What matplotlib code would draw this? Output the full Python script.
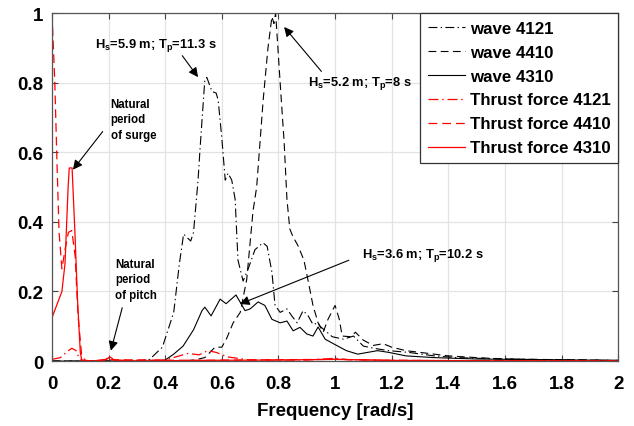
import matplotlib
matplotlib.use("Agg")
import matplotlib.pyplot as plt

plt.rcParams['font.family'] = ['Liberation Sans', 'DejaVu Sans']
plt.rcParams['font.weight'] = 'bold'
plt.rcParams['mathtext.fontset'] = 'custom'
plt.rcParams['mathtext.rm'] = 'Liberation Sans:bold'
plt.rcParams['mathtext.bf'] = 'Liberation Sans:bold'
plt.rcParams['mathtext.it'] = 'Liberation Sans:bold'

# ---- data ----
f_w4121 = [0.0, 0.30, 0.345, 0.39, 0.43, 0.45, 0.465, 0.49, 0.50, 0.516, 0.523, 0.54, 0.547,
           0.565, 0.58, 0.587, 0.60, 0.612, 0.622, 0.635, 0.647, 0.657, 0.675, 0.693, 0.717,
           0.745, 0.76, 0.777, 0.788, 0.806, 0.83, 0.847, 0.866, 0.887, 0.905, 0.922, 0.94,
           0.947, 0.99, 1.03, 1.065, 1.10, 1.15, 1.19, 1.26, 1.35, 1.43, 1.55, 1.75, 2.0]
v_w4121 = [0.0, 0.0, 0.005, 0.04, 0.14, 0.28, 0.365, 0.345, 0.37, 0.52, 0.61, 0.81, 0.815,
           0.775, 0.77, 0.75, 0.64, 0.52, 0.54, 0.52, 0.465, 0.29, 0.23, 0.265, 0.32,
           0.34, 0.33, 0.255, 0.16, 0.14, 0.15, 0.13, 0.11, 0.145, 0.13, 0.105, 0.11,
           0.10, 0.07, 0.063, 0.072, 0.043, 0.035, 0.03, 0.025, 0.015, 0.01, 0.007, 0.004, 0.002]

f_w4410 = [0.0, 0.45, 0.50, 0.54, 0.576, 0.60, 0.617, 0.64, 0.665, 0.688, 0.71, 0.723, 0.746,
           0.763, 0.777, 0.784, 0.79, 0.806, 0.82, 0.83, 0.84, 0.85, 0.87, 0.89, 0.905, 0.922,
           0.94, 0.958, 0.975, 1.0, 1.015, 1.025, 1.055, 1.072, 1.10, 1.135, 1.17, 1.20, 1.25,
           1.30, 1.40, 1.50, 1.60, 1.80, 2.0]
v_w4410 = [0.0, 0.0, 0.003, 0.01, 0.04, 0.04, 0.065, 0.11, 0.14, 0.235, 0.43, 0.5, 0.75,
           0.9, 0.99, 0.97, 1.0, 0.8, 0.63, 0.465, 0.38, 0.36, 0.33, 0.29, 0.23, 0.16,
           0.11, 0.083, 0.12, 0.16, 0.12, 0.072, 0.07, 0.083, 0.06, 0.045, 0.05, 0.04, 0.03,
           0.025, 0.015, 0.01, 0.006, 0.004, 0.002]

f_w4310 = [0.0, 0.35, 0.40, 0.43, 0.463, 0.50, 0.53, 0.54, 0.562, 0.594, 0.615, 0.65, 0.682,
           0.70, 0.728, 0.752, 0.777, 0.806, 0.83, 0.852, 0.876, 0.90, 0.922, 0.94, 0.965,
           0.994, 1.04, 1.08, 1.15, 1.19, 1.25, 1.35, 1.50, 1.75, 2.0]
v_w4310 = [0.0, 0.0, 0.003, 0.02, 0.043, 0.09, 0.145, 0.155, 0.13, 0.178, 0.165, 0.19, 0.145,
           0.15, 0.17, 0.16, 0.12, 0.11, 0.115, 0.087, 0.097, 0.078, 0.072, 0.098, 0.063,
           0.05, 0.03, 0.02, 0.03, 0.025, 0.015, 0.01, 0.006, 0.004, 0.002]

f_t4121 = [0.0, 0.03, 0.05, 0.07, 0.085, 0.095, 0.11, 0.18, 0.20, 0.22, 0.40, 0.45, 0.48,
           0.52, 0.55, 0.58, 0.62, 0.70, 0.90, 1.0, 1.05, 1.2, 2.0]
v_t4121 = [0.005, 0.01, 0.025, 0.037, 0.03, 0.01, 0.0, 0.001, 0.008, 0.002, 0.003, 0.015, 0.022,
           0.018, 0.03, 0.025, 0.012, 0.003, 0.003, 0.008, 0.004, 0.002, 0.0]

f_t4410 = [0.0, 0.01, 0.018, 0.025, 0.035, 0.046, 0.058, 0.07, 0.082, 0.092, 0.105, 0.12,
           0.2, 0.5, 0.8, 1.0, 1.2, 2.0]
v_t4410 = [1.0, 0.8, 0.56, 0.37, 0.265, 0.32, 0.37, 0.375, 0.3, 0.13, 0.015, 0.0,
           0.004, 0.002, 0.004, 0.005, 0.002, 0.0]

f_t4310 = [0.0, 0.035, 0.046, 0.057, 0.061, 0.071, 0.081, 0.09, 0.10, 0.105, 0.15, 0.19,
           0.205, 0.22, 0.30, 0.50, 0.80, 1.0, 1.2, 1.5, 2.0]
v_t4310 = [0.125, 0.2, 0.28, 0.5, 0.555, 0.555, 0.37, 0.18, 0.025, 0.003, 0.0, 0.005,
           0.012, 0.003, 0.0, 0.002, 0.003, 0.005, 0.002, 0.001, 0.0]

labels = ['wave 4121', 'wave 4410', 'wave 4310',
          'Thrust force 4121', 'Thrust force 4410', 'Thrust force 4310']

fig = plt.figure(figsize=(6.34, 4.27), dpi=100)
ax = fig.add_axes([0.082, 0.152, 0.893, 0.815])

dashdot = (0, (8, 3, 1.2, 3))
dashed = (0, (7, 4))
ax.plot(f_w4121, v_w4121, color='black', lw=0.8, linestyle=dashdot, label=labels[0])
ax.plot(f_w4410, v_w4410, color='black', lw=0.8, linestyle=dashed, label=labels[1])
ax.plot(f_w4310, v_w4310, color='black', lw=0.8, linestyle='-', label=labels[2])
ax.plot(f_t4121, v_t4121, color='red', lw=0.9, linestyle=dashdot, label=labels[3])
ax.plot(f_t4410, v_t4410, color='red', lw=0.9, linestyle=dashed, label=labels[4])
ax.plot(f_t4310, v_t4310, color='red', lw=0.9, linestyle='-', label=labels[5])

ax.set_xlim(0, 2)
ax.set_ylim(0, 1)
ax.set_xticks([0, 0.2, 0.4, 0.6, 0.8, 1, 1.2, 1.4, 1.6, 1.8, 2])
ax.set_xticklabels(['0', '0.2', '0.4', '0.6', '0.8', '1', '1.2', '1.4', '1.6', '1.8', '2'])
ax.set_yticks([0, 0.2, 0.4, 0.6, 0.8, 1])
ax.set_yticklabels(['0', '0.2', '0.4', '0.6', '0.8', '1'])
ax.tick_params(direction='in', top=True, right=True, labelsize=13.5, length=4, width=0.8,
               color='#444444')
ax.tick_params(axis='x', pad=10)
ax.tick_params(axis='y', pad=6)
for lab in ax.get_xticklabels() + ax.get_yticklabels():
    lab.set_fontweight('bold')
ax.grid(True, color='#e3e3e3', lw=0.9)
ax.set_axisbelow(True)
for s in ax.spines.values():
    s.set_color('#555555')
    s.set_linewidth(0.9)
ax.set_xlabel('Frequency [rad/s]', fontsize=13.5, fontweight='bold', labelpad=7)

leg = ax.legend(loc='upper right', bbox_to_anchor=(1.0, 1.0), borderaxespad=0.0,
                fancybox=False, edgecolor='#333333', framealpha=1,
                handlelength=2.2, handletextpad=0.3, labelspacing=0.53, borderpad=0.44,
                prop={'weight': 'bold', 'size': 12.2})
leg.get_frame().set_linewidth(0.9)

akw = dict(arrowstyle='-|>', color='black', lw=0.8, mutation_scale=14)
fsh = 9.3
fs = 8.3
ax.annotate(r'$\mathbf{H_s}$=5.9 m; $\mathbf{T_p}$=11.3 s', xy=(0.516, 0.816), xytext=(0.152, 0.91),
            fontsize=fsh, fontweight='bold', ha='left', va='center',
            arrowprops=dict(akw, shrinkA=0, shrinkB=0, relpos=(0.7, 0.0)))
ax.annotate(r'$\mathbf{H_s}$=5.2 m; $\mathbf{T_p}$=8 s', xy=(0.82, 0.96), xytext=(0.905, 0.80),
            fontsize=fsh, fontweight='bold', ha='left', va='center',
            arrowprops=dict(akw, shrinkA=0, shrinkB=0, relpos=(0.15, 1.0)))
ax.annotate(r'$\mathbf{H_s}$=3.6 m; $\mathbf{T_p}$=10.2 s', xy=(0.664, 0.164), xytext=(1.095, 0.305),
            fontsize=fsh, fontweight='bold', ha='left', va='center',
            arrowprops=dict(akw, shrinkA=8, shrinkB=0, relpos=(0.0, 0.5)))
ax.annotate('Natural\nperiod\nof surge', xy=(0.074, 0.55), xytext=(0.207, 0.695),
            fontsize=fs, fontweight='bold', ha='left', va='center', linespacing=1.4,
            arrowprops=dict(akw, shrinkA=6, shrinkB=0, relpos=(0.0, 0.45)))
ax.annotate('Natural\nperiod\nof pitch', xy=(0.208, 0.03), xytext=(0.222, 0.235),
            fontsize=fs, fontweight='bold', ha='left', va='center', linespacing=1.4,
            arrowprops=dict(akw, shrinkA=3, shrinkB=0, relpos=(0.22, 0.0)))

fig.savefig('out.png', dpi=100)
